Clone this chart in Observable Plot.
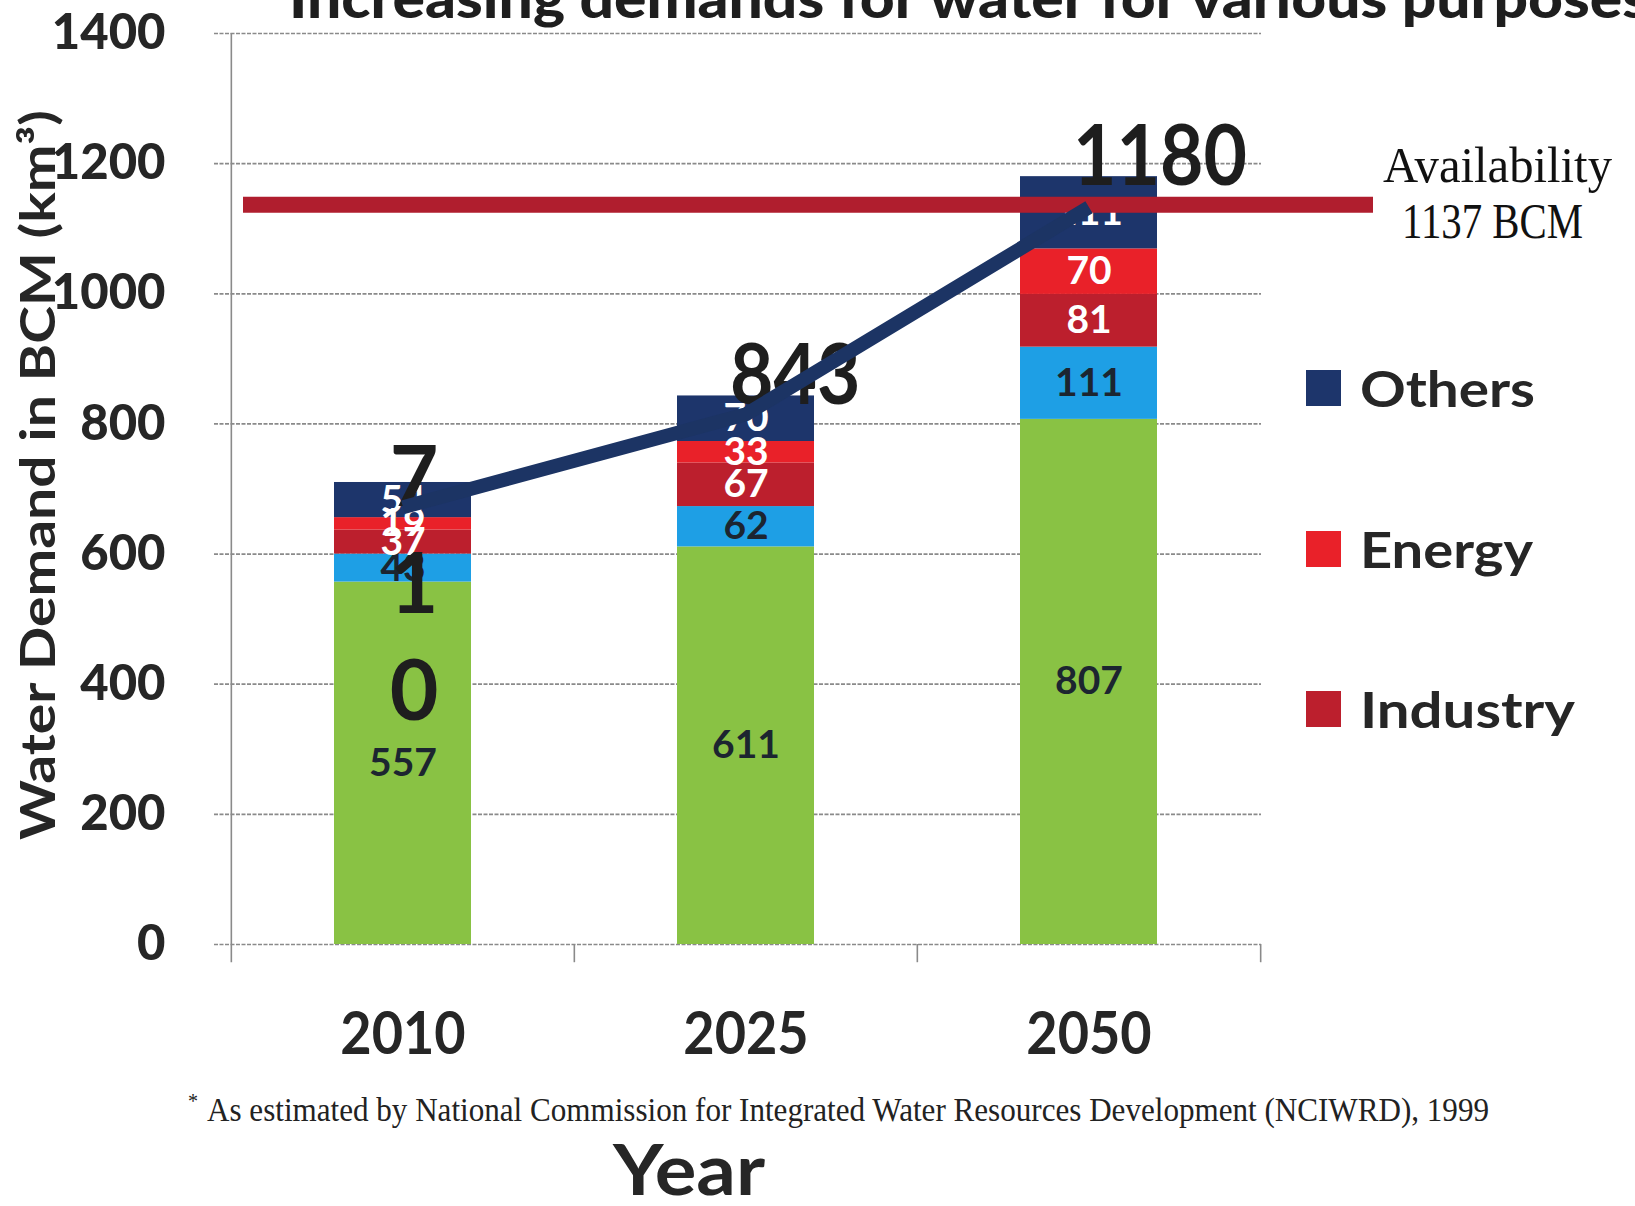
<!DOCTYPE html>
<html>
<head>
<meta charset="utf-8">
<script src="https://cdn.jsdelivr.net/npm/d3@7"></script>
<script src="https://cdn.jsdelivr.net/npm/@observablehq/plot@0.6"></script>
<style>
  html, body { margin: 0; padding: 0; background: #fff; }
  #wrap { position: relative; width: 1635px; height: 1206px; overflow: hidden; background: #fff; }
  #wrap > svg { position: absolute; left: 0; top: 0; }
</style>
</head>
<body>
<div id="wrap"></div>
<script>
// ---------- data ----------
const years = ["2010", "2025", "2050"];
const categories = ["Irrigation", "Domestic", "Industry", "Energy", "Others"];
const irrigation = [557, 611, 807];
const domestic = [43, 62, 111];
const industry = [37, 67, 81];
const energy = [19, 33, 70];
const others = [54, 70, 111];
const trendLine = [672, 815, 1133];
const availability = 1137;
const yTicks = [0, 200, 400, 600, 800, 1000, 1200, 1400];
const categoryColors = ["#89c244", "#1e9fe5", "#bc1f2d", "#e92129", "#1d356b"];
const darkLabelCategories = ["Irrigation", "Domestic"];
const legendItems = ["Others", "Energy", "Industry"];
const titleText = "Increasing demands for water for various purposes";
const yLabelText = "Water Demand in BCM (km³)";
const xLabelText = "Year";
const captionText = "As estimated by National Commission for Integrated Water Resources Development (NCIWRD), 1999";
const availabilityText = ["Availability", availability + " BCM"];

// ---------- derived tables ----------
const series = [irrigation, domestic, industry, energy, others];
const rows = [];
categories.forEach((c, ci) => years.forEach((y, yi) => rows.push({year: y, category: c, value: series[ci][yi]})));
const totals = years.map((y, i) => ({year: y, total: d3.sum(series, s => s[i])}));
const trend = years.map((y, i) => ({year: y, value: trendLine[i]}));

const W = 1635, H = 1206;
const mL = 231, mR = 374, mT = 33, mB = 262;
const step = (W - mL - mR) / years.length;
const gridColor = "#8a8a8a";
const textColor = "#262626";

const stackOpts = {order: categories};

const chart = Plot.plot({
  width: W, height: H,
  marginTop: mT, marginBottom: mB, marginLeft: mL, marginRight: mR,
  style: {fontFamily: "Lato, 'Open Sans', sans-serif", color: textColor, background: "transparent"},
  x: {domain: years, paddingInner: 0.6, paddingOuter: 0.3},
  y: {domain: [0, 1400]},
  color: {domain: categories, range: categoryColors},
  marks: [
    Plot.ruleY(yTicks, {stroke: gridColor, strokeWidth: 1.7, strokeDasharray: "4 1.5", insetLeft: -17}),
    Plot.ruleX([years[0]], {x: d => d, dx: -step / 2, y1: -28, y2: 1400, stroke: gridColor, strokeWidth: 1.6}),
    Plot.ruleX(years.slice(1), {x: d => d, dx: -step / 2, y1: 0, y2: -28, stroke: gridColor, strokeWidth: 1.6}),
    Plot.ruleX([years[years.length - 1]], {x: d => d, dx: step / 2, y1: 0, y2: -28, stroke: gridColor, strokeWidth: 1.6}),
    Plot.barY(rows, Plot.stackY(stackOpts, {x: "year", y: "value", fill: "category"})),
    Plot.text(rows, Plot.stackY(stackOpts, {
      x: "year", y: "value", z: "category",
      text: d => darkLabelCategories.includes(d.category) ? String(d.value) : null,
      fill: "#1c2530", fontSize: 39, fontWeight: "bold", lineAnchor: "middle"
    })),
    Plot.text(rows, Plot.stackY(stackOpts, {
      x: "year", y: "value", z: "category",
      text: d => darkLabelCategories.includes(d.category) ? null : String(d.value),
      fill: "#ffffff", fontSize: 39, fontWeight: "bold", lineAnchor: "middle"
    })),
    Plot.text(totals, {
      x: "year", y: "total",
      text: d => d.year === years[0] ? String(d.total).split("").join("\n") : null,
      fill: "#1e1e1e", fontSize: 84, fontWeight: "bold", lineAnchor: "top", lineHeight: 1.27,
      textAnchor: "middle", dx: 11, dy: -52
    }),
    Plot.text(totals, {
      x: "year", y: "total",
      text: d => d.year === years[0] ? null : String(d.total),
      fill: "#1e1e1e", fontSize: 84, fontWeight: "bold", lineAnchor: "bottom",
      textAnchor: "start", dx: -16, dy: 8
    }),
    Plot.ruleY([availability], {stroke: "#b01e2e", strokeWidth: 16, insetLeft: 12, insetRight: -112}),
    Plot.line(trend, {x: "year", y: "value", stroke: "#1c3464", strokeWidth: 14, strokeLinecap: "butt", strokeLinejoin: "round"}),
    Plot.axisY(yTicks, {tickSize: 0, tickPadding: 66, fontSize: 49, fontWeight: 900, label: null, fill: textColor, tickFormat: d => String(d)}),
    Plot.axisX({tickSize: 0, tickPadding: 67, fontSize: 60, fontWeight: "bold", label: null, fill: textColor})
  ]
});

const wrap = document.getElementById("wrap");
wrap.appendChild(chart);

// condense Lato text to Calibri-like proportions
function condense(selection, k) {
  selection.each(function () {
    const L = this.getComputedTextLength();
    if (L > 0) {
      this.setAttribute("textLength", L * k);
      this.setAttribute("lengthAdjust", "spacingAndGlyphs");
    }
  });
}
function fitPerChar(selection, perChar) {
  selection.each(function () {
    const n = (this.textContent || "").length;
    if (n > 0) {
      this.setAttribute("textLength", n * perChar);
      this.setAttribute("lengthAdjust", "spacingAndGlyphs");
    }
  });
}
const root = d3.select(chart);
const totalStrings = totals.filter(d => d.year !== years[0]).map(d => String(d.total));
fitPerChar(root.selectAll("text").filter(function () {
  return this.childElementCount === 0 && totalStrings.includes(this.textContent.trim());
}), 43.5);
condense(root.selectAll('g[aria-label="x-axis tick label"] text'), 0.9);

// ---------- overlay: title, axis titles, legend, annotation, caption ----------
const ov = d3.select(wrap).append("svg")
  .attr("width", W).attr("height", H)
  .style("font-family", "Lato, 'Open Sans', sans-serif");

// title (cut off at the top edge as in the source image)
ov.append("text")
  .attr("x", 289).attr("y", 18)
  .attr("font-size", 56).attr("font-weight", 900).attr("fill", "#1e1e1e")
  .attr("textLength", 1360).attr("lengthAdjust", "spacingAndGlyphs")
  .text(titleText);

// y axis title
ov.append("text")
  .attr("transform", "translate(55,475) rotate(-90)")
  .attr("text-anchor", "middle")
  .attr("font-size", 47).attr("font-weight", "bold").attr("fill", textColor)
  .attr("textLength", 730).attr("lengthAdjust", "spacingAndGlyphs")
  .text(yLabelText);

// legend (only three entries visible in the source)
const legendBaselines = [407, 568, 728];
const legendWidths = [175, 173, 215];
legendItems.forEach((name, i) => {
  const color = categoryColors[categories.indexOf(name)];
  ov.append("rect")
    .attr("x", 1306).attr("y", legendBaselines[i] - 37)
    .attr("width", 35).attr("height", 36).attr("fill", color);
  ov.append("text")
    .attr("x", 1360).attr("y", legendBaselines[i])
    .attr("font-size", 50).attr("font-weight", "bold").attr("fill", textColor)
    .attr("textLength", legendWidths[i]).attr("lengthAdjust", "spacingAndGlyphs")
    .text(name);
});

// availability annotation
ov.append("text")
  .attr("x", 1383).attr("y", 182)
  .attr("font-family", "'Liberation Serif', 'DejaVu Serif', serif")
  .attr("font-size", 50).attr("fill", "#111")
  .attr("textLength", 229).attr("lengthAdjust", "spacingAndGlyphs")
  .text(availabilityText[0]);
ov.append("text")
  .attr("x", 1402).attr("y", 238)
  .attr("font-family", "'Liberation Serif', 'DejaVu Serif', serif")
  .attr("font-size", 50).attr("fill", "#111")
  .attr("textLength", 181).attr("lengthAdjust", "spacingAndGlyphs")
  .text(availabilityText[1]);

// caption
ov.append("text")
  .attr("x", 188).attr("y", 1108)
  .attr("font-family", "'Liberation Serif', serif")
  .attr("font-size", 20).attr("fill", "#222")
  .text("*");
ov.append("text")
  .attr("x", 207).attr("y", 1121)
  .attr("font-family", "'Liberation Serif', serif")
  .attr("font-size", 33).attr("fill", "#222")
  .attr("textLength", 1282).attr("lengthAdjust", "spacingAndGlyphs")
  .text(captionText);

// x axis title
ov.append("text")
  .attr("x", 613).attr("y", 1195)
  .attr("font-size", 70).attr("font-weight", "bold").attr("fill", textColor)
  .attr("textLength", 152).attr("lengthAdjust", "spacingAndGlyphs")
  .text(xLabelText);
</script>
</body>
</html>
